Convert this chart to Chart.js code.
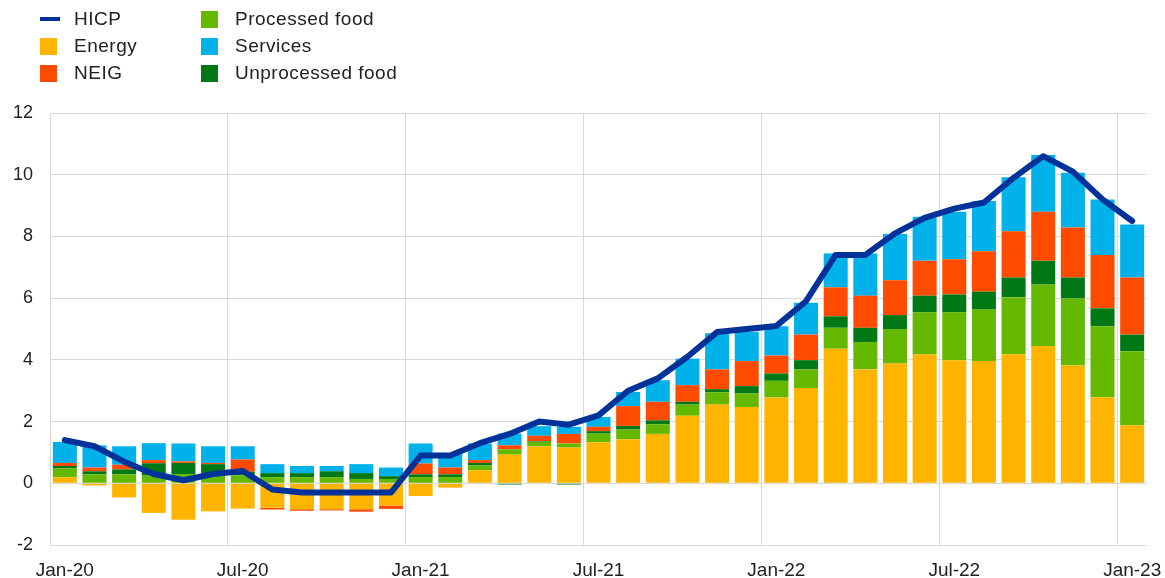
<!DOCTYPE html>
<html>
<head>
<meta charset="utf-8">
<script src="https://cdn.jsdelivr.net/npm/chart.js@4"></script>
<style>
    html, body { margin: 0; padding: 0; background: #fff; }
    #wrap { position: relative; width: 1165px; height: 578px; }
    #legend { position: absolute; left: 0; top: 0; font-family: 'Liberation Sans', Arial, sans-serif; font-size: 19px; letter-spacing: 0.5px; color: #222; }
    .item { position: absolute; height: 20px; line-height: 20px; white-space: nowrap; }
    .item .sw { position: absolute; left: 0; top: 2px; width: 17px; height: 17px; }
    .item .ln { position: absolute; left: 0; top: 8px; width: 20px; height: 4px; }
    .item span { position: absolute; left: 34px; top: 0; }
</style>
</head>
<body>
<div id="wrap">
    <canvas id="chart"></canvas>
    <div id="legend"></div>
</div>
<script>
// --- Datos (contribuciones, puntos porcentuales) ---
const labels = ['Jan-20','Feb-20','Mar-20','Apr-20','May-20','Jun-20','Jul-20','Aug-20','Sep-20','Oct-20','Nov-20','Dec-20',
    'Jan-21','Feb-21','Mar-21','Apr-21','May-21','Jun-21','Jul-21','Aug-21','Sep-21','Oct-21','Nov-21','Dec-21',
    'Jan-22','Feb-22','Mar-22','Apr-22','May-22','Jun-22','Jul-22','Aug-22','Sep-22','Oct-22','Nov-22','Dec-22',
    'Jan-23'];

const hicp = [1.4, 1.2, 0.7, 0.3, 0.1, 0.3, 0.4, -0.2, -0.3, -0.3, -0.3, -0.3,
    0.9, 0.9, 1.3, 1.6, 2.0, 1.9, 2.2, 3.0, 3.4, 4.1, 4.9, 5.0,
    5.1, 5.9, 7.4, 7.4, 8.1, 8.6, 8.9, 9.1, 9.9, 10.6, 10.1, 9.2,
    8.5];

const energy = [0.2, -0.07, -0.46, -0.96, -1.18, -0.91, -0.82, -0.79, -0.84, -0.84, -0.84, -0.72,
    -0.41, -0.14, 0.42, 0.93, 1.2, 1.16, 1.33, 1.43, 1.6, 2.19, 2.55, 2.47,
    2.78, 3.09, 4.36, 3.69, 3.88, 4.17, 3.99, 3.96, 4.18, 4.45, 3.82, 2.79,
    1.88];

const processedFood = [0.28, 0.29, 0.29, 0.25, 0.3, 0.31, 0.26, 0.2, 0.2, 0.2, 0.14, 0.14,
    0.2, 0.2, 0.16, 0.17, 0.14, 0.13, 0.28, 0.31, 0.31, 0.36, 0.4, 0.44,
    0.54, 0.6, 0.68, 0.89, 1.12, 1.37, 1.55, 1.67, 1.85, 1.99, 2.17, 2.3,
    2.4];

const unprocessedFood = [0.08, 0.1, 0.16, 0.4, 0.36, 0.31, 0.11, 0.13, 0.13, 0.19, 0.19, 0.09,
    0.09, 0.09, 0.08, -0.04, 0.02, -0.04, 0.08, 0.12, 0.13, 0.09, 0.1, 0.24,
    0.24, 0.3, 0.37, 0.46, 0.45, 0.54, 0.58, 0.58, 0.64, 0.77, 0.68, 0.58,
    0.54];

const neig = [0.1, 0.12, 0.15, 0.1, 0.05, 0.04, 0.4, -0.06, -0.05, -0.04, -0.08, -0.11,
    0.35, 0.22, 0.09, 0.13, 0.18, 0.31, 0.14, 0.64, 0.6, 0.54, 0.64, 0.81,
    0.58, 0.83, 0.94, 1.04, 1.13, 1.13, 1.14, 1.31, 1.5, 1.59, 1.62, 1.73,
    1.85];

const services = [0.68, 0.72, 0.6, 0.55, 0.58, 0.54, 0.43, 0.29, 0.23, 0.17, 0.29, 0.28,
    0.65, 0.45, 0.54, 0.38, 0.31, 0.23, 0.32, 0.46, 0.7, 0.86, 1.17, 0.95,
    0.95, 1.03, 1.1, 1.37, 1.5, 1.43, 1.54, 1.63, 1.75, 1.84, 1.77, 1.8,
    1.72];

// --- Colores ---
const COLORS = {
    hicp: '#003299',
    energy: '#ffb400',
    neig: '#ff4b00',
    processed: '#65b800',
    services: '#00b1ea',
    unprocessed: '#007816'
};

const FONT = "'Liberation Sans', Arial, sans-serif";
const GRID = '#d9d9d9';

// --- Leyenda HTML (dos columnas) ---
const legendItems = [
    { text: 'HICP', color: COLORS.hicp, line: true, x: 40, y: 9 },
    { text: 'Energy', color: COLORS.energy, x: 40, y: 36 },
    { text: 'NEIG', color: COLORS.neig, x: 40, y: 63 },
    { text: 'Processed food', color: COLORS.processed, x: 201, y: 9 },
    { text: 'Services', color: COLORS.services, x: 201, y: 36 },
    { text: 'Unprocessed food', color: COLORS.unprocessed, x: 201, y: 63 }
];
const legendEl = document.getElementById('legend');
legendItems.forEach(it => {
    const d = document.createElement('div');
    d.className = 'item';
    d.style.left = it.x + 'px';
    d.style.top = it.y + 'px';
    d.innerHTML = `<i class="${it.line ? 'ln' : 'sw'}" style="background:${it.color}"></i><span>${it.text}</span>`;
    legendEl.appendChild(d);
});

const barDs = (label, data, color) => ({
    type: 'bar',
    label: label,
    data: data,
    backgroundColor: color,
    stack: 'comp',
    order: 1,
    barPercentage: 0.81,
    categoryPercentage: 1.0
});

const canvas = document.getElementById('chart');
canvas.width = 1165;
canvas.height = 578;

new Chart(canvas.getContext('2d'), {
    data: {
        labels: labels,
        datasets: [
            {
                type: 'line',
                label: 'HICP',
                data: hicp,
                borderColor: COLORS.hicp,
                borderWidth: 6,
                pointRadius: 0,
                tension: 0,
                borderJoinStyle: 'round',
                borderCapStyle: 'round',
                stack: 'hicp',
                order: 0
            },
            barDs('Energy', energy, COLORS.energy),
            barDs('Processed food', processedFood, COLORS.processed),
            barDs('Unprocessed food', unprocessedFood, COLORS.unprocessed),
            barDs('NEIG', neig, COLORS.neig),
            barDs('Services', services, COLORS.services)
        ]
    },
    options: {
        responsive: false,
        animation: false,
        layout: { padding: { top: 113, right: 18, left: 0, bottom: 0 } },
        plugins: {
            legend: { display: false },
            tooltip: { enabled: false }
        },
        scales: {
            x: {
                stacked: true,
                grid: {
                    offset: true,
                    drawTicks: false,
                    color: (ctx) => (ctx.index !== undefined && ctx.index % 6 === 0) ? GRID : 'transparent'
                },
                border: { display: false },
                ticks: {
                    autoSkip: false,
                    maxRotation: 0,
                    padding: 14,
                    color: '#222',
                    font: { family: FONT, size: 19 },
                    callback: function (val, i) { return i % 6 === 0 ? labels[i] : ''; }
                },
                afterFit: (scale) => {
                    scale.height = 33;
                    scale.paddingLeft = 0;
                    scale.paddingRight = 0;
                }
            },
            y: {
                stacked: true,
                min: -2,
                max: 12,
                grid: { color: GRID, drawTicks: false },
                border: { display: true, color: GRID },
                ticks: {
                    stepSize: 2,
                    padding: 17,
                    color: '#222',
                    font: { family: FONT, size: 18 }
                },
                afterFit: (scale) => { scale.width = 50; }
            }
        }
    }
});
</script>
</body>
</html>
